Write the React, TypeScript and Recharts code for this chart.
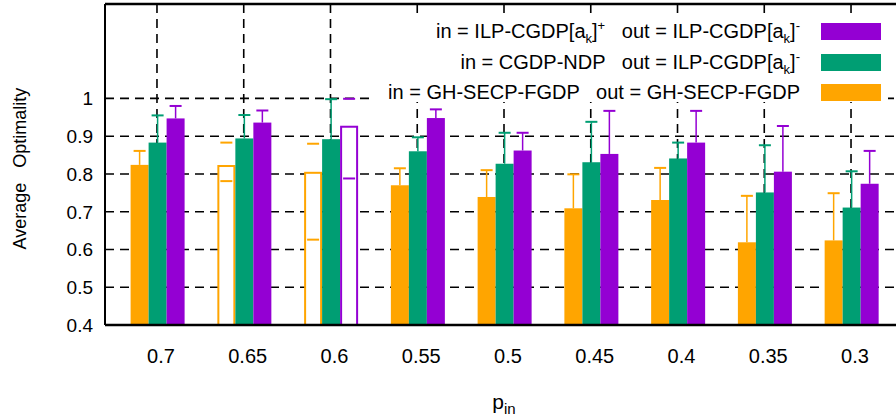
import { Bar, BarChart, CartesianGrid, ReferenceLine, XAxis, YAxis } from "recharts";

const categories = ["0.7", "0.65", "0.6", "0.55", "0.5", "0.45", "0.4", "0.35", "0.3"];

// in = GH-SECP-FGDP, out = GH-SECP-FGDP
const ghsMean = [0.824, 0.821, 0.803, 0.77, 0.739, 0.709, 0.731, 0.619, 0.624];
const ghsHigh = [0.861, 0.883, 0.88, 0.815, 0.81, 0.799, 0.816, 0.742, 0.749];
const ghsLow = [null, 0.781, 0.626, null, null, null, null, null, null];
const ghsOpen = ["0.65", "0.6"];

// in = CGDP-NDP, out = ILP-CGDP[a_k]^-
const ndpMean = [0.883, 0.894, 0.892, 0.86, 0.827, 0.831, 0.841, 0.751, 0.711];
const ndpHigh = [0.955, 0.956, 0.998, 0.897, 0.909, 0.938, 0.883, 0.876, 0.807];
const ndpLow = [null, null, null, null, null, null, null, null, null];
const ndpOpen: string[] = [];

// in = ILP-CGDP[a_k]^+, out = ILP-CGDP[a_k]^-
const ilpMean = [0.947, 0.936, 0.925, 0.948, 0.862, 0.853, 0.883, 0.806, 0.774];
const ilpHigh = [0.98, 0.968, 0.999, 0.971, 0.909, 0.967, 0.967, 0.927, 0.861];
const ilpLow = [null, null, 0.788, null, null, null, null, null, null];
const ilpOpen = ["0.6"];

const yTicks = [0.4, 0.5, 0.6, 0.7, 0.8, 0.9, 1];
const Y_MIN = 0.4;
const Y_MAX = 1.25;

const FONT = '"Liberation Sans", Arial, Helvetica, sans-serif';
const ORANGE = "#ffa500";
const GREEN = "#009e73";
const PURPLE = "#9400d3";

const rows = categories.map((cat, i) => ({
  cat,
  ghs: ghsMean[i],
  ghsHigh: ghsHigh[i],
  ghsLow: ghsLow[i],
  ndp: ndpMean[i],
  ndpHigh: ndpHigh[i],
  ndpLow: ndpLow[i],
  ilp: ilpMean[i],
  ilpHigh: ilpHigh[i],
  ilpLow: ilpLow[i],
}));

const series = [
  { key: "ghs", color: ORANGE, open: ghsOpen },
  { key: "ndp", color: GREEN, open: ndpOpen },
  { key: "ilp", color: PURPLE, open: ilpOpen },
];

function barShape(key: string, color: string, open: string[]) {
  return function BarWithError(props: any) {
    const { x, y, width, height, payload } = props;
    const mean = payload[key];
    const perUnit = height / (mean - Y_MIN);
    const toPx = (v: number) => y + height - (v - Y_MIN) * perUnit;
    const cx = x + width / 2;
    const hi = payload[key + "High"];
    const lo = payload[key + "Low"];
    const cap = 6;

    if (open.includes(payload.cat)) {
      return (
        <g>
          <rect x={x + 1} y={y} width={width - 2} height={height} fill="#fff" stroke={color} strokeWidth={2} />
          {hi != null && <line x1={cx - cap} x2={cx + cap} y1={toPx(hi)} y2={toPx(hi)} stroke={color} strokeWidth={2} />}
          {lo != null && <line x1={cx - cap} x2={cx + cap} y1={toPx(lo)} y2={toPx(lo)} stroke={color} strokeWidth={2} />}
        </g>
      );
    }

    return (
      <g>
        <rect x={x} y={y} width={width} height={height} fill={color} />
        <line x1={cx} x2={cx} y1={y} y2={toPx(hi)} stroke={color} strokeWidth={1.5} />
        <line x1={cx - cap} x2={cx + cap} y1={toPx(hi)} y2={toPx(hi)} stroke={color} strokeWidth={2} />
      </g>
    );
  };
}

function XTick({ x, y, payload }: any) {
  return (
    <text x={x + 4} y={y} dy={30} textAnchor="middle" fontSize={20} fontFamily={FONT} fill="#000">
      {payload.value}
    </text>
  );
}

function YTick({ x, y, payload }: any) {
  return (
    <text x={x - 4} y={y} dy={7} textAnchor="end" fontSize={19} fontFamily={FONT} fill="#000">
      {String(payload.value)}
    </text>
  );
}

function PinLabel({ viewBox }: any) {
  const cx = viewBox.x + viewBox.width / 2;
  return (
    <text x={cx} y={viewBox.y + 84} textAnchor="middle" fontFamily={FONT} fill="#000">
      <tspan fontSize={21}>p</tspan>
      <tspan fontSize={15} dy={5}>in</tspan>
    </text>
  );
}

function YLabel({ viewBox }: any) {
  const cy = viewBox.y + viewBox.height / 2 + 4;
  return (
    <text
      x={20}
      y={cy}
      transform={`rotate(-90 20 ${cy})`}
      textAnchor="middle"
      dominantBaseline="central"
      fontSize={18}
      fontFamily={FONT}
      fill="#000"
      style={{ whiteSpace: "pre" }}
    >
      {"Average   Optimality"}
    </text>
  );
}

const legendRows = [
  {
    color: PURPLE,
    label: (
      <>
        in = ILP-CGDP[a<sub>k</sub>]<sup>+</sup>{"   "}out = ILP-CGDP[a<sub>k</sub>]<sup>-</sup>
      </>
    ),
  },
  {
    color: GREEN,
    label: (
      <>
        in = CGDP-NDP{"   "}out = ILP-CGDP[a<sub>k</sub>]<sup>-</sup>
      </>
    ),
  },
  {
    color: ORANGE,
    label: <>in = GH-SECP-FGDP{"   "}out = GH-SECP-FGDP</>,
  },
];

function ChartLegend() {
  return (
    <div
      style={{
        position: "absolute",
        left: 375,
        top: 16,
        width: 513,
        height: 86,
        background: "#fff",
        fontFamily: FONT,
        fontSize: 20,
        lineHeight: "20px",
        color: "#000",
      }}
    >
      {legendRows.map((row, i) => (
        <div key={i} style={{ position: "absolute", left: 0, top: 5 + i * 30.5, width: 513, height: 24 }}>
          <span
            style={{
              position: "absolute",
              right: 88,
              top: 0,
              whiteSpace: "pre",
            }}
          >
            {row.label}
          </span>
          <span
            style={{
              position: "absolute",
              left: 446,
              top: 2,
              width: 60,
              height: 17,
              background: row.color,
            }}
          />
        </div>
      ))}
      <style>{`sub, sup { font-size: 13px; line-height: 0; }`}</style>
    </div>
  );
}

export default function App() {
  return (
    <div
      style={{
        position: "absolute",
        left: 0,
        top: 0,
        width: 896,
        height: 416,
        overflow: "hidden",
        background: "#fff",
      }}
    >
      <BarChart
        width={912}
        height={416}
        data={rows}
        margin={{ top: 4, right: 9, bottom: 0, left: 0 }}
        barGap={0}
        barCategoryGap={17}
      >
        <CartesianGrid stroke="#000" strokeWidth={1.6} strokeDasharray="9 6" />
        <XAxis
          dataKey="cat"
          height={91}
          interval={0}
          padding={{ left: 8.6, right: 8.6 }}
          axisLine={{ stroke: "#000", strokeWidth: 2.5 }}
          tickLine={false}
          tick={<XTick />}
          label={<PinLabel />}
        />
        <YAxis
          width={105}
          domain={[Y_MIN, Y_MAX]}
          ticks={yTicks}
          allowDataOverflow
          axisLine={{ stroke: "#000", strokeWidth: 2 }}
          tickLine={false}
          tick={<YTick />}
          label={<YLabel />}
        />
        <ReferenceLine y={Y_MAX} stroke="#000" strokeWidth={2.5} />
        {series.map((s) => (
          <Bar
            key={s.key}
            dataKey={s.key}
            fill={s.color}
            shape={barShape(s.key, s.color, s.open)}
            isAnimationActive={false}
          />
        ))}
      </BarChart>
      <ChartLegend />
    </div>
  );
}
